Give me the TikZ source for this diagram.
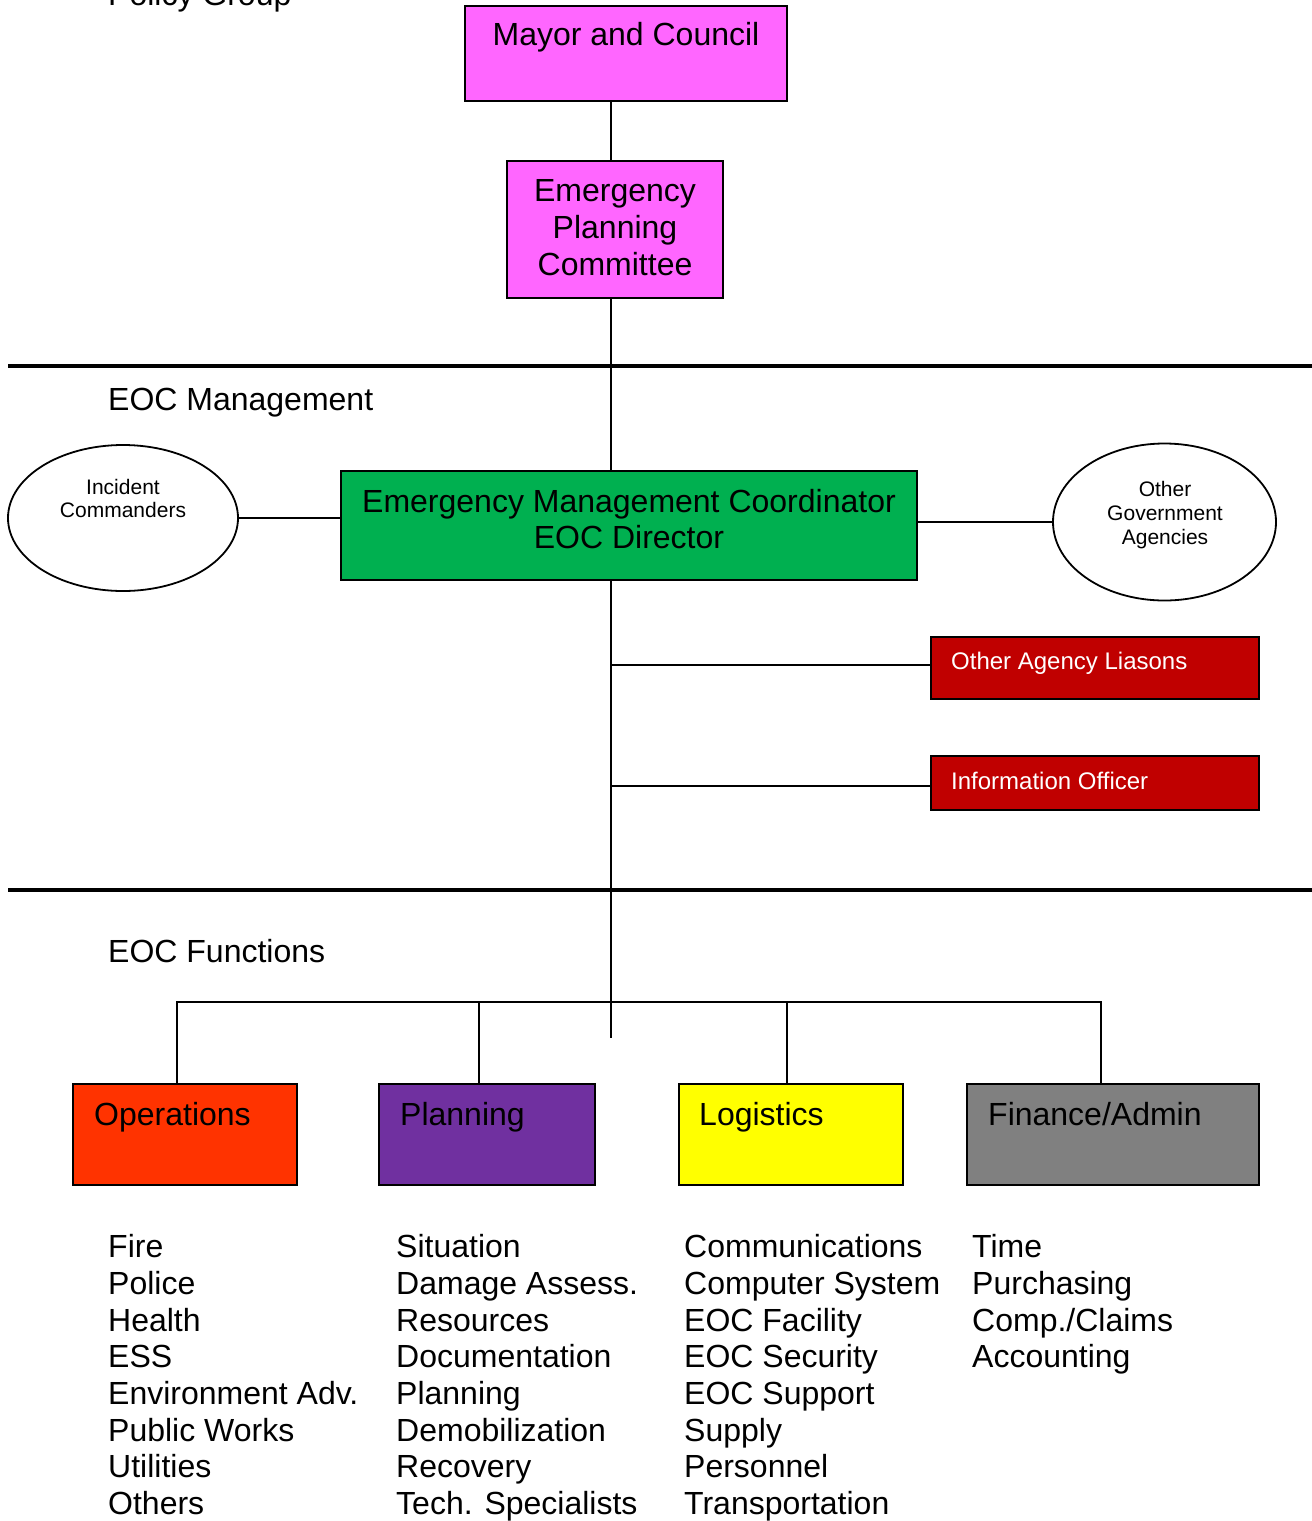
\documentclass[tikz,border=0pt]{standalone}
\usepackage{fontspec}
\setmainfont{Liberation Sans}
\usetikzlibrary{shapes.geometric, positioning, calc}
\definecolor{polmag}{HTML}{FF66FF}
\definecolor{emcgreen}{HTML}{00B050}
\definecolor{liared}{HTML}{C00000}
\definecolor{opsred}{HTML}{FF3300}
\definecolor{planpurple}{HTML}{7030A0}
\definecolor{logyellow}{HTML}{FFFF00}
\definecolor{fingray}{HTML}{808080}

\begin{document}
\begin{tikzpicture}[
    x=1pt, y=-1pt,
    font=\fontsize{32}{36.7}\selectfont,
    box/.style={draw, line width=1.8pt, inner sep=0pt},
    oval/.style={draw, ellipse, line width=1.8pt, inner sep=0pt},
    ttl/.style={anchor=base, inner sep=0pt, align=center},
    lbl/.style={anchor=base west, inner sep=0pt},
    small/.style={font=\fontsize{21}{23.5}\selectfont},
    link/.style={line width=1.8pt},
    sep/.style={line width=4.5pt},
]
\useasboundingbox (0,0) rectangle (1312,1521);

% Section titles
\node[lbl] (policy) at (108,5.5)   {Policy Group};
\node[lbl] (mgmt)   at (108,410.5) {EOC Management};
\node[lbl] (func)   at (108,962.5) {EOC Functions};

% Separators between the groups
\draw[sep] (8,366) -- (1312,366);
\draw[sep] (8,890) -- (1312,890);

% Policy group
\node[box, fill=polmag, minimum width=322pt, minimum height=95pt] (mayor) at (626,53.5) {};
\node[box, fill=polmag, minimum width=216pt, minimum height=137pt] (epc) at (615,229.5) {};
\node[ttl] (mayort) at (626,45) {Mayor and Council};
\node[ttl] (epct) at (615,275) {Emergency\\Planning\\Committee};

% EOC management
\node[box, fill=emcgreen, minimum width=576pt, minimum height=109pt] (emc) at (629,525.5) {};
\node[ttl, font=\fontsize{32}{36}\selectfont] (emct) at (629,548.5) {Emergency Management Coordinator\\EOC Director};
\node[oval, minimum width=230pt, minimum height=146pt] (ic)  at (123,518) {};
\node[oval, minimum width=223pt, minimum height=157pt] (oga) at (1164.5,522) {};
\node[ttl, small] (ict)  at (123,517.5)  {Incident\\Commanders};
\node[ttl, small, font=\fontsize{21}{24}\selectfont] (ogat) at (1165,544.5) {Other\\Government\\Agencies};
\node[box, fill=liared, minimum width=328pt, minimum height=62pt] (liason) at (1095,668) {};
\node[box, fill=liared, minimum width=328pt, minimum height=54pt] (info)   at (1095,783) {};
\node[lbl, text=white, font=\fontsize{24}{28}\selectfont] (liat)  at (951,669.5) {Other Agency Liasons};
\node[lbl, text=white, font=\fontsize{24}{28}\selectfont] (infot) at (951,789.5) {Information Officer};

% EOC functions
\node[box, fill=opsred,     minimum width=224pt, minimum height=101pt] (ops)  at (185,1134.5) {};
\node[box, fill=planpurple, minimum width=216pt, minimum height=101pt] (plan) at (487,1134.5) {};
\node[box, fill=logyellow,  minimum width=224pt, minimum height=101pt] (logi) at (791,1134.5) {};
\node[box, fill=fingray,    minimum width=292pt, minimum height=101pt] (fin)  at (1113,1134.5) {};
\node[lbl] (opst)  at (94,1125.5)  {Operations};
\node[lbl] (plant) at (400,1125.5) {Planning};
\node[lbl] (logit) at (699,1125.5) {Logistics};
\node[lbl] (fint)  at (988,1125.5) {Finance/Admin};

% Function lists
\foreach \t [count=\i] in {Fire,Police,Health,ESS,Environment Adv.,Public Works,Utilities,Others}
    \node[lbl] (opsl\i) at (108,{1257.7+36.7*(\i-1)}) {\t};
\foreach \t [count=\i] in {Situation,Damage Assess.,Resources,Documentation,Planning,Demobilization,Recovery,Tech. Specialists}
    \node[lbl] (planl\i) at (396,{1257.7+36.7*(\i-1)}) {\t};
\foreach \t [count=\i] in {Communications,Computer System,EOC Facility,EOC Security,EOC Support,Supply,Personnel,Transportation}
    \node[lbl] (logil\i) at (684,{1257.7+36.7*(\i-1)}) {\t};
\foreach \t [count=\i] in {Time,Purchasing,Comp./Claims,Accounting}
    \node[lbl] (finl\i) at (972,{1257.7+36.7*(\i-1)}) {\t};

% Trunk and links
\coordinate (trunk) at (611,0);
\coordinate (trunkend) at (611,1038);
\coordinate (bus) at (611,1002);
\draw[link] (mayor.south -| trunk) -- (epc.north -| trunk);
\draw[link] (epc.south -| trunk) -- (emc.north -| trunk);
\draw[link] (emc.south -| trunk) -- (trunkend);
\draw[link] (ic.east) -- (ic.east -| emc.west);
\draw[link] (oga.west -| emc.east) -- (oga.west);
\draw[link] ([yshift=3pt]liason.west -| trunk) -- ([yshift=3pt]liason.west);
\draw[link] ([yshift=-3pt]info.west -| trunk) -- ([yshift=-3pt]info.west);
\foreach \n/\dx in {ops/-8,plan/-8,logi/-4,fin/-12} \draw[link] ([xshift=\dx]\n.north) |- (bus);
\end{tikzpicture}
\end{document}
